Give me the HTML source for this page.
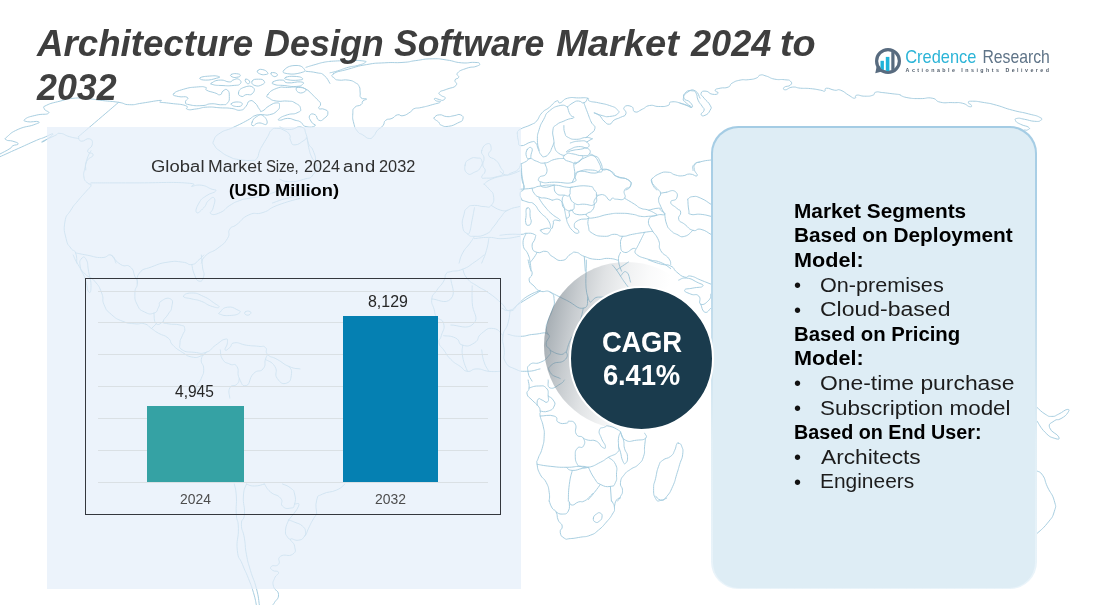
<!DOCTYPE html>
<html lang="en">
<head>
<meta charset="utf-8">
<title>Architecture Design Software Market 2024 to 2032</title>
<style>
html,body{margin:0;padding:0;background:#fff;}
body{width:1096px;height:605px;position:relative;overflow:hidden;font-family:"Liberation Sans",sans-serif;color:#000;}
#map{position:absolute;left:0;top:0;width:1096px;height:605px;}
#map path{fill:none;stroke:#a3cbde;stroke-width:0.95;stroke-linejoin:round;stroke-linecap:round;}
#lpanel{position:absolute;left:46.5px;top:126.5px;width:474.5px;height:462.3px;background:rgba(228,238,249,0.70);}
#chart{position:absolute;left:84.9px;top:277.8px;width:416.6px;height:237.3px;border:1.35px solid #34373d;box-sizing:border-box;}
.grid{position:absolute;left:98px;width:389.8px;height:1px;background:#dae0e4;}
.bar{position:absolute;}
#rpanel{position:absolute;left:711px;top:126px;width:325.7px;height:463px;border-radius:27px;background:linear-gradient(180deg,#a4cce4 0%,#b0d3e8 25%,#cae1ee 48%,#e1eff6 68%,#eaf4fa 100%);}
#rpanel::before{content:"";position:absolute;left:1.7px;top:1.5px;right:1.5px;bottom:1.2px;border-radius:25.6px;background:#deedf5;}
#shadow{position:absolute;left:544.2px;top:261.5px;width:165px;height:167.5px;border-radius:50%;background:linear-gradient(101deg,rgba(100,113,123,0.7) 0%,rgba(100,113,123,0.56) 8%,rgba(100,113,123,0.36) 20%,rgba(100,113,123,0.2) 32%,rgba(100,113,123,0.09) 44%,rgba(100,113,123,0.03) 55%,rgba(100,113,123,0) 66%);}
#cagr{position:absolute;left:569.3px;top:286.3px;width:145px;height:145px;border-radius:50%;background:#1a3b4d;border:2.5px solid #fff;box-sizing:border-box;}
.w{margin:0;padding:0;font:inherit;position:static;}
.t{position:absolute;white-space:nowrap;line-height:1;transform-origin:0 0;}
</style>
</head>
<body>
<svg id="map" viewBox="0 0 1096 605">
<path d="M160.0,101.2C159.7,101.0 164.1,100.0 158.8,100.5C153.4,101.1 151.1,101.8 142.3,103.1C133.6,104.3 136.7,104.9 129.6,104.7C122.4,104.5 126.8,103.6 118.6,102.3C110.4,101.1 111.5,101.6 102.2,100.5C92.9,99.4 96.4,99.3 87.6,98.7C78.8,98.0 81.2,97.6 73.0,98.3C64.8,99.0 68.2,99.0 60.2,101.1C52.3,103.1 51.3,102.9 46.5,105.3C41.8,107.6 43.8,106.5 44.3,108.9C44.9,111.3 50.7,111.4 48.4,113.3C46.0,115.1 43.3,113.5 36.5,115.1C29.7,116.8 28.3,116.8 25.5,118.8C22.8,120.7 23.5,120.8 27.4,121.7C31.2,122.6 36.4,120.7 38.3,121.7C40.2,122.6 39.8,122.5 33.8,124.8C27.7,127.1 26.2,125.8 18.2,129.3C10.3,132.9 10.9,133.5 7.3,136.6C3.7,139.8 4.7,138.6 6.4,139.9C8.0,141.3 9.2,140.0 12.8,141.2C16.3,142.4 18.2,142.6 18.2,143.9C18.2,145.3 15.2,144.4 12.8,145.8C10.3,147.1 13.9,146.0 10.0,148.5C6.2,151.0 3.0,152.3 0.0,154.0 M0.0,156.7C5.5,154.3 7.3,153.4 18.2,148.5C29.2,143.6 28.8,143.6 36.5,140.3C44.2,137.0 38.9,139.5 43.8,137.6C48.7,135.6 52.4,133.1 52.9,133.9C53.5,134.7 48.6,138.1 45.6,140.3C42.6,142.5 40.1,142.6 42.9,141.2C45.6,139.8 49.5,138.1 54.7,135.7C59.9,133.4 55.8,133.1 60.2,133.4C64.6,133.6 63.9,135.1 69.3,136.6C74.8,138.2 75.7,137.9 78.5,138.5 M118.6,102.3C112.6,107.5 110.6,109.2 98.5,119.5C86.5,129.8 84.5,131.5 78.5,136.6 M78.5,136.6C79.3,138.0 77.9,140.5 81.2,141.2C84.5,141.9 86.1,137.7 89.4,138.8C92.7,139.9 92.7,141.1 92.2,144.9C91.6,148.6 87.3,148.2 87.6,151.2C87.9,154.3 93.3,151.9 93.1,154.9C92.8,157.9 88.9,156.7 86.7,161.3C84.5,165.8 86.0,167.4 85.8,170.0 M173.7,93.8C175.3,91.6 176.9,91.2 183.7,89.2C190.6,87.2 189.9,87.6 196.5,87.0C203.1,86.5 202.6,86.4 205.6,87.4C208.6,88.3 203.8,88.5 206.5,90.1C209.3,91.8 210.6,91.5 214.7,92.8C218.9,94.2 217.8,95.2 220.2,94.7C222.7,94.1 220.8,92.4 223.0,91.0C225.1,89.7 225.6,88.5 227.5,90.1C229.4,91.8 229.3,92.7 229.3,96.5C229.3,100.3 229.7,100.4 227.5,102.9C225.3,105.3 227.0,104.4 222.0,104.7C217.1,105.0 217.1,103.5 211.1,103.8C205.1,104.1 208.5,105.3 202.0,105.6C195.4,105.9 194.1,105.8 189.2,104.7C184.3,103.6 186.1,104.2 185.5,102.0C185.0,99.8 189.6,99.1 187.4,97.4C185.2,95.8 182.4,97.6 178.2,96.5C174.1,95.4 172.0,95.9 173.7,93.8Z M200.1,77.9C201.2,76.7 203.8,76.5 209.3,76.1C214.7,75.6 216.2,75.8 218.4,76.4C220.6,77.1 220.4,77.2 216.6,78.2C212.7,79.3 210.5,80.2 205.6,80.1C200.7,80.0 199.1,79.1 200.1,77.9Z M212.0,82.8C214.2,81.4 215.0,80.3 220.2,80.1C225.4,79.8 225.5,81.9 229.3,81.9C233.2,81.9 230.3,80.9 233.0,80.1C235.7,79.3 236.3,78.1 238.5,79.2C240.7,80.3 241.9,81.8 240.3,83.7C238.6,85.6 238.5,85.0 233.0,85.5C227.5,86.1 228.1,85.8 222.0,85.5C216.0,85.3 215.9,85.5 212.9,84.6C209.9,83.8 209.8,84.2 212.0,82.8Z M231.2,74.6C232.5,73.7 233.9,73.4 236.6,73.7C239.4,74.0 240.3,74.4 240.3,75.5C240.3,76.6 239.1,77.0 236.6,77.3C234.2,77.7 233.7,77.6 232.1,76.8C230.4,76.0 229.8,75.5 231.2,74.6Z M257.6,70.9C258.4,69.7 259.2,68.9 262.2,69.5C265.2,70.0 266.8,71.2 267.7,72.8C268.5,74.3 267.4,74.3 264.9,74.6C262.5,74.9 261.6,74.8 259.5,73.7C257.3,72.6 256.8,72.2 257.6,70.9Z M271.3,72.8C272.7,72.2 275.4,72.6 276.8,73.7C278.2,74.8 277.2,75.9 275.9,76.4C274.5,77.0 273.6,76.6 272.2,75.5C270.9,74.4 269.9,73.3 271.3,72.8Z M252.2,81.0C253.2,79.1 255.0,79.2 258.5,79.2C262.1,79.2 262.9,79.3 264.0,81.0C265.1,82.6 264.9,83.3 262.2,84.6C259.5,86.0 257.9,86.6 254.9,85.5C251.9,84.5 251.1,82.9 252.2,81.0Z M245.8,79.2C246.9,78.9 248.6,79.6 249.4,81.0C250.2,82.4 249.6,83.4 248.5,83.7C247.4,84.0 246.6,83.3 245.8,81.9C244.9,80.5 244.7,79.4 245.8,79.2Z M238.5,92.8C239.0,90.1 239.6,89.0 243.9,87.4C248.3,85.7 250.6,85.5 253.1,87.4C255.5,89.3 254.3,91.6 252.2,93.8C250.0,95.9 248.8,93.9 245.8,94.7C242.8,95.5 244.3,97.0 242.1,96.5C239.9,95.9 237.9,95.6 238.5,92.8Z M231.2,103.8C231.7,102.4 235.2,101.7 238.5,102.0C241.8,102.2 242.7,103.3 242.1,104.7C241.6,106.1 239.9,106.8 236.6,106.5C233.4,106.3 230.6,105.2 231.2,103.8Z M284.1,70.0C286.3,67.6 289.0,65.7 295.0,65.5C301.1,65.2 302.5,66.9 304.2,69.1C305.8,71.3 305.4,71.4 300.5,72.8C295.6,74.1 292.7,74.5 287.7,73.7C282.8,72.9 281.9,72.5 284.1,70.0Z M285.9,77.3C288.1,76.4 290.1,76.1 295.0,76.4C300.0,76.7 301.2,77.2 302.3,78.2C303.4,79.3 303.1,79.6 298.7,80.1C294.3,80.5 291.6,80.5 287.7,79.7C283.9,78.9 283.7,78.3 285.9,77.3Z M273.1,81.9C275.3,80.5 277.9,79.8 282.3,80.1C286.6,80.3 282.3,82.3 287.7,82.8C293.2,83.4 296.1,81.4 300.5,81.9C304.9,82.4 304.0,83.3 302.3,84.6C300.7,86.0 300.5,86.2 295.0,86.5C289.6,86.7 290.1,86.1 284.1,85.5C278.1,85.0 278.2,85.7 275.0,84.6C271.7,83.5 270.9,83.3 273.1,81.9Z M267.7,94.7C269.9,91.7 270.8,90.5 276.8,88.3C282.8,86.1 281.2,87.6 287.7,87.4C294.3,87.1 293.2,86.8 298.7,87.4C304.2,87.9 302.2,87.3 306.0,89.2C309.8,91.1 308.2,90.7 311.5,93.8C314.7,96.8 314.2,96.2 316.9,99.2C319.7,102.2 320.0,101.1 320.6,103.8C321.1,106.5 317.7,106.7 318.8,108.4C319.9,110.0 321.5,107.9 324.2,109.3C327.0,110.6 327.9,110.2 327.9,112.9C327.9,115.7 327.0,116.2 324.2,118.4C321.5,120.6 321.5,121.3 318.8,120.2C316.0,119.1 317.8,116.1 315.1,114.7C312.4,113.4 310.7,113.5 309.6,115.7C308.5,117.8 309.8,119.0 311.5,122.0C313.1,125.1 316.8,124.3 315.1,125.7C313.5,127.1 310.4,127.7 306.0,126.6C301.6,125.5 303.8,124.0 300.5,122.0C297.2,120.1 298.9,121.3 295.0,120.2C291.2,119.1 292.1,118.4 287.7,118.4C283.4,118.4 282.9,120.2 280.4,120.2C278.0,120.2 277.3,120.0 279.5,118.4C281.7,116.8 282.5,116.4 287.7,114.7C292.9,113.1 293.0,114.8 296.9,112.9C300.7,111.0 301.1,111.4 300.5,108.4C300.0,105.3 298.9,105.1 295.0,102.9C291.2,100.7 293.2,101.6 287.7,101.1C282.3,100.5 282.3,101.9 276.8,101.1C271.3,100.2 272.2,100.2 269.5,98.3C266.8,96.4 265.5,97.7 267.7,94.7Z M296.9,87.4C298.5,86.1 301.7,87.1 304.2,88.3C306.6,89.5 306.7,90.1 305.1,91.4C303.4,92.6 301.1,93.7 298.7,92.5C296.2,91.3 295.2,88.6 296.9,87.4Z M252.2,122.0C253.2,119.3 253.4,118.5 256.7,116.6C260.0,114.7 260.1,113.5 263.1,115.7C266.1,117.8 268.1,121.7 266.8,123.9C265.4,126.1 262.6,122.4 258.5,123.0C254.4,123.5 255.0,126.0 253.1,125.7C251.1,125.4 251.1,124.8 252.2,122.0Z M160.0,102.3C163.3,102.7 163.3,102.4 170.9,103.4C178.6,104.4 180.6,103.9 185.5,105.6C190.5,107.4 184.1,108.3 187.4,109.3C190.7,110.3 190.5,109.6 196.5,108.9C202.5,108.2 200.3,107.4 207.4,107.1C214.6,106.8 213.1,107.4 220.2,107.8C227.3,108.2 225.1,107.6 231.2,108.4C237.2,109.1 235.9,110.7 240.3,110.2C244.7,109.6 243.0,109.3 245.8,106.5C248.5,103.8 246.7,102.2 249.4,101.1C252.2,100.0 251.9,100.4 254.9,102.9C257.9,105.3 257.3,106.8 259.5,109.3C261.6,111.7 259.2,112.2 262.2,111.1C265.2,110.0 265.1,108.1 269.5,105.6C273.9,103.2 273.8,102.9 276.8,102.9C279.8,102.9 279.5,103.2 279.5,105.6C279.5,108.1 279.8,108.4 276.8,111.1C273.8,113.8 273.9,113.6 269.5,114.7C265.1,115.8 266.6,114.5 262.2,114.7C257.8,115.0 259.3,114.0 254.9,115.7C250.5,117.3 254.2,116.7 247.6,120.2C241.0,123.8 241.2,123.7 233.0,127.5C224.8,131.4 226.0,129.2 220.2,133.0C214.5,136.8 215.5,136.5 213.8,140.3C212.2,144.1 212.8,142.5 214.7,145.8C216.7,149.1 215.8,148.0 220.2,151.2C224.6,154.5 223.9,154.3 229.3,156.7C234.8,159.2 231.9,158.4 238.5,159.5C245.0,160.5 245.8,160.6 251.2,160.4C256.7,160.1 254.3,161.3 256.7,158.5C259.2,155.8 257.8,155.1 259.5,151.2C261.1,147.4 259.7,150.1 262.2,145.8C264.7,141.4 264.9,141.3 267.7,136.6C270.4,132.0 268.6,132.7 271.3,130.3C274.1,127.8 273.0,128.4 276.8,128.4C280.6,128.4 280.3,128.3 284.1,130.3C287.9,132.2 287.6,131.8 289.6,134.8C291.5,137.8 288.8,137.3 290.5,140.3C292.1,143.3 290.9,144.9 295.0,144.9C299.1,144.9 300.6,142.2 304.2,140.3C307.7,138.4 305.5,136.3 306.9,138.5C308.3,140.7 307.4,142.1 308.7,147.6C310.1,153.1 309.5,152.3 311.5,156.7C313.4,161.1 312.9,158.2 315.1,162.2C317.3,166.2 317.7,167.7 318.8,170.0 M306.0,67.3C308.7,66.5 309.6,66.1 315.1,64.6C320.6,63.0 319.7,63.1 324.2,62.2C328.7,61.3 328.3,61.7 330.1,61.5 M306.0,71.3C309.3,71.8 311.5,71.5 316.9,72.8C322.4,74.0 320.3,72.3 324.2,75.5C328.1,78.7 328.2,81.0 329.9,83.4 M333.6,73.7C337.8,71.0 338.4,71.9 348.2,69.2C358.1,66.4 355.5,66.5 366.5,64.6C377.4,62.7 373.8,63.4 384.7,62.8C395.7,62.1 393.7,63.1 403.0,62.4C412.3,61.8 407.0,61.7 415.8,60.6C424.5,59.5 422.9,58.9 432.2,58.8C441.5,58.6 438.0,58.8 446.8,60.0C455.5,61.2 453.2,62.1 461.4,62.8C469.6,63.5 468.7,62.1 474.2,62.4C479.6,62.7 479.1,62.5 479.6,63.7C480.2,64.9 479.8,65.1 476.0,66.4C472.2,67.8 472.3,66.3 466.9,68.2C461.4,70.2 460.2,70.1 457.7,72.8C455.3,75.5 459.5,75.2 458.6,77.4C457.8,79.6 455.8,77.6 455.0,80.1C454.2,82.6 458.4,82.8 455.9,85.6C453.4,88.3 451.7,87.2 446.8,89.2C441.9,91.3 441.1,90.4 439.5,92.3C437.8,94.3 439.7,94.1 441.3,95.6C443.0,97.2 444.4,96.1 445.0,97.4C445.5,98.8 444.8,99.5 443.1,100.2C441.5,100.8 442.0,100.2 439.5,99.6C437.0,99.1 436.0,98.0 434.9,98.4C433.8,98.7 434.2,99.6 435.8,100.7C437.5,101.8 441.5,100.8 440.4,102.0C439.3,103.2 437.9,103.1 432.2,104.7C426.4,106.4 426.7,106.3 421.2,107.5C415.8,108.7 417.2,107.4 413.9,108.8C410.7,110.1 413.6,110.0 410.3,112.0C407.0,114.1 406.8,114.9 403.0,115.7C399.2,116.5 400.8,114.0 397.5,114.8C394.2,115.6 395.6,116.8 392.0,118.4C388.5,120.1 388.4,118.1 385.7,120.3C382.9,122.4 385.4,122.7 382.9,125.7C380.5,128.7 380.2,127.3 377.4,130.3C374.7,133.3 376.3,133.3 373.8,135.8C371.3,138.2 372.5,138.8 369.2,138.5C365.9,138.2 366.4,137.0 362.8,134.9C359.3,132.7 360.1,134.8 357.4,131.2C354.6,127.6 355.1,128.2 353.7,123.0C352.4,117.8 352.5,118.5 352.8,113.9C353.1,109.2 352.2,110.2 354.6,107.5C357.1,104.7 358.6,106.7 361.0,104.7C363.5,102.8 361.2,102.8 362.8,101.1C364.5,99.3 367.0,99.9 366.5,98.9C365.9,97.9 362.9,99.9 361.0,97.8C359.1,95.7 360.7,95.4 360.1,92.0C359.6,88.6 360.6,89.2 359.2,86.5C357.8,83.8 358.8,84.8 355.5,82.8C352.3,80.9 353.2,80.9 348.2,80.1C343.3,79.3 343.2,80.7 339.1,80.1C335.0,79.6 336.2,80.2 334.6,78.3C332.9,76.4 329.5,76.5 333.6,73.7Z M434.4,117.5C435.7,116.1 435.8,115.1 439.5,114.8C443.2,114.5 442.4,116.3 446.8,116.6C451.2,116.9 450.0,116.2 454.1,115.7C458.2,115.1 457.8,113.7 460.5,114.8C463.1,115.9 463.7,116.9 462.8,119.3C462.0,121.8 462.0,120.9 457.7,123.0C453.5,125.1 453.5,125.6 448.6,126.3C443.7,126.9 444.3,126.4 441.3,125.2C438.3,123.9 440.5,123.8 438.6,122.1C436.7,120.3 436.2,120.7 434.9,119.3C433.7,118.0 433.0,118.9 434.4,117.5Z M330.0,61.3C335.5,61.1 338.4,60.7 348.2,60.6C358.1,60.5 357.9,60.3 362.8,60.9C367.8,61.6 366.3,61.4 364.7,62.8C363.0,64.1 362.3,64.1 357.4,65.5C352.4,66.9 354.3,65.7 348.2,67.3C342.2,69.0 342.8,69.3 337.3,71.0C331.8,72.6 332.2,72.3 330.0,72.8 M517.3,132.9C518.2,131.8 516.0,131.7 520.1,129.3C524.2,126.8 526.1,127.2 531.0,124.7C535.9,122.2 533.2,124.6 536.5,121.1C539.8,117.5 538.1,117.0 542.0,112.8C545.8,108.7 544.9,110.9 549.3,107.4C553.6,103.8 553.3,102.4 556.6,101.0C559.9,99.6 556.9,103.6 560.2,102.8C563.5,102.0 562.0,99.7 567.5,98.2C573.0,96.8 572.4,97.9 578.5,97.9C584.5,97.9 584.3,97.3 587.6,98.2C590.9,99.2 586.1,99.6 589.4,101.0C592.7,102.4 592.5,101.4 598.5,102.8C604.6,104.2 604.0,103.6 609.5,105.5C615.0,107.5 614.3,106.7 616.8,109.2C619.3,111.7 619.9,111.6 617.7,113.8C615.5,115.9 614.1,115.9 609.5,116.5C604.8,117.0 606.8,116.7 602.2,115.6C597.5,114.5 594.8,112.8 594.0,112.8C593.2,112.8 596.4,113.1 599.5,115.6C602.5,118.0 601.0,118.5 604.0,121.1C607.0,123.6 606.5,124.4 609.5,124.2C612.5,123.9 610.8,122.2 614.1,120.1C617.3,118.1 616.9,119.3 620.4,117.4C624.0,115.5 624.8,116.8 625.9,113.8C627.0,110.7 622.4,109.6 624.1,107.4C625.7,105.2 628.1,105.1 631.4,106.5C634.7,107.8 631.8,111.1 635.0,111.9C638.3,112.8 638.0,111.1 642.3,109.2C646.7,107.3 644.7,106.4 649.6,105.5C654.6,104.7 653.3,106.5 658.8,106.5C664.2,106.5 664.1,106.9 667.9,105.5C671.7,104.2 667.2,102.4 671.5,101.9C675.9,101.4 676.5,102.1 682.5,103.7C688.5,105.4 690.5,107.6 691.6,107.4C692.7,107.1 688.6,105.5 686.1,102.8C683.7,100.1 682.8,101.5 683.4,98.2C683.9,95.0 684.4,94.1 688.0,91.9C691.5,89.7 691.6,89.0 695.3,90.9C698.9,92.9 698.6,96.1 700.0,98.2 M517.3,132.9C517.6,135.1 517.2,136.4 518.2,140.2C519.3,144.1 517.2,145.1 521.0,145.7C524.8,146.2 526.6,142.9 531.0,142.0C535.4,141.2 533.4,140.8 535.6,143.0C537.8,145.1 536.7,145.8 538.3,149.3C540.0,152.9 539.1,152.6 541.1,154.8C543.0,157.0 542.2,157.2 544.7,156.6C547.2,156.1 547.1,155.7 549.3,153.0C551.5,150.3 550.6,150.5 552.0,147.5C553.4,144.5 553.3,144.3 553.8,143.0 M539.2,150.3C538.7,147.2 537.4,146.5 537.4,140.2C537.4,133.9 537.3,135.6 539.2,129.3C541.1,123.0 540.8,124.7 543.8,119.2C546.8,113.8 544.3,115.1 549.3,111.0C554.2,106.9 554.7,106.8 560.2,105.5C565.7,104.3 565.3,106.6 567.5,107.0 M567.5,107.0C568.3,109.3 568.3,111.6 570.3,114.7C572.2,117.8 574.5,116.0 573.9,117.4C573.4,118.8 571.4,118.1 568.4,119.2C565.4,120.3 567.4,119.4 563.9,121.1C560.3,122.7 559.9,122.0 556.6,124.7C553.3,127.4 553.7,125.5 552.9,130.2C552.1,134.8 553.3,135.0 553.8,140.2C554.4,145.4 553.4,143.7 554.7,147.5C556.1,151.4 555.4,150.5 558.4,153.0C561.4,155.5 562.9,154.9 564.8,155.7 M563.9,125.6C564.1,127.8 563.4,129.4 564.8,132.9C566.1,136.5 564.9,135.6 568.4,137.5C572.0,139.4 571.4,139.3 576.6,139.3C581.8,139.3 581.1,137.6 585.8,137.5C590.4,137.3 590.2,138.4 592.2,138.8 M583.9,102.8C585.0,105.8 585.4,107.1 587.6,112.8C589.8,118.6 589.1,117.3 591.2,122.0C593.4,126.6 595.4,124.5 594.9,128.4C594.3,132.2 592.2,132.0 589.4,134.7C586.7,137.5 586.9,136.7 585.8,137.5 M567.5,107.0C569.2,105.7 569.7,104.6 573.0,102.8C576.3,101.0 575.2,101.0 578.5,101.0C581.8,101.0 581.2,103.6 583.9,102.8C586.7,102.0 586.5,99.6 587.6,98.2 M570.3,143.0C572.7,142.4 573.5,141.4 578.5,141.1C583.4,140.9 583.9,140.1 586.7,142.0C589.4,144.0 590.1,146.1 587.6,147.5C585.1,148.9 583.7,146.1 578.5,146.6C573.3,147.2 573.8,147.7 570.3,149.3C566.7,151.0 565.8,151.8 566.6,152.1C567.4,152.4 568.9,151.1 573.0,150.3C577.1,149.4 575.9,149.9 580.3,149.3C584.7,148.8 584.9,147.1 587.6,148.4C590.3,149.8 591.1,151.7 589.4,153.9C587.8,156.1 587.0,155.7 582.1,155.7C577.2,155.7 577.6,154.5 573.0,153.9C568.3,153.4 569.3,152.5 566.6,153.9C563.9,155.3 562.5,156.0 563.9,158.5C565.2,160.9 567.3,160.7 571.2,162.1C575.0,163.5 573.4,164.1 576.6,163.0C579.9,161.9 580.5,160.7 582.1,158.5C583.8,156.3 582.1,156.6 582.1,155.7 M592.2,138.8 L586.7,142.0 M589.4,153.9C591.1,154.7 591.9,153.6 594.9,156.6C597.9,159.7 597.3,160.1 599.5,163.9C601.6,167.8 599.2,167.5 602.2,169.4C605.2,171.3 605.1,168.1 609.5,170.3C613.9,172.5 611.3,174.0 616.8,176.7C622.3,179.5 623.6,176.7 627.7,179.5C631.8,182.2 631.0,182.7 630.5,185.8C629.9,189.0 627.3,188.8 625.9,190.0 M527.4,149.3C529.0,146.9 530.8,146.8 531.9,148.4C533.0,150.1 531.6,151.8 531.0,154.8C530.5,157.8 531.5,157.9 530.1,158.5C528.7,159.0 527.3,159.4 526.5,156.6C525.6,153.9 525.7,151.8 527.4,149.3Z M521.0,163.9C522.6,163.1 523.7,162.8 526.5,161.2C529.2,159.6 527.1,158.5 530.1,158.5C533.1,158.5 532.1,159.8 536.5,161.2C540.9,162.6 539.2,163.6 544.7,163.0C550.2,162.5 549.0,160.7 554.7,159.4C560.5,158.0 561.1,158.7 563.9,158.5 M544.7,163.0C545.3,166.0 548.2,168.7 546.5,173.1C544.9,177.4 540.6,174.9 539.2,177.6C537.9,180.4 537.3,180.8 542.0,182.2C546.6,183.6 545.4,182.2 554.7,182.2C564.1,182.2 567.0,184.4 573.0,182.2C579.0,180.0 574.5,180.4 574.8,174.9C575.1,169.4 573.4,167.5 573.9,163.9C574.5,160.4 575.8,163.3 576.6,163.0 M574.8,174.9C576.5,173.8 574.3,171.8 580.3,171.2C586.3,170.7 588.9,173.6 594.9,173.1C600.9,172.5 598.2,170.5 600.4,169.4C602.6,168.3 601.6,169.4 602.2,169.4 M651.5,179.5C653.6,177.8 653.8,176.2 658.8,174.0C663.7,171.8 663.0,171.9 667.9,172.2C672.8,172.4 670.8,173.8 675.2,174.9C679.6,176.0 678.1,176.1 682.5,175.8C686.9,175.5 685.4,174.0 689.8,174.0C694.2,174.0 695.7,177.2 697.1,175.8C698.4,174.4 694.9,173.0 694.3,169.4C693.8,165.9 693.6,166.1 695.3,163.9C697.0,161.8 698.6,162.7 700.0,162.1 M651.5,179.5C652.0,181.4 651.6,182.7 653.3,185.8C654.9,189.0 655.8,188.8 656.9,190.0 M500.0,171.2C501.6,172.3 502.2,174.3 505.5,174.9C508.8,175.4 507.1,174.7 510.9,173.1C514.8,171.4 515.2,172.2 518.2,169.4C521.3,166.7 519.9,162.3 521.0,163.9C522.1,165.6 521.1,168.3 521.9,174.9C522.7,181.5 523.4,181.3 523.7,185.8C524.0,190.4 523.1,188.8 522.8,190.0 M522.1,200.2C523.9,200.8 524.5,201.0 528.1,202.2C531.7,203.4 530.5,201.2 534.1,204.2C537.8,207.2 535.9,207.4 540.2,212.2C544.4,217.1 544.9,215.5 548.2,220.3C551.5,225.1 549.7,227.1 551.2,228.3C552.7,229.5 552.3,226.7 553.2,224.3C554.1,221.9 552.1,221.5 554.2,220.3C556.3,219.1 560.8,222.1 560.2,220.3C559.6,218.5 556.4,217.9 552.2,214.3C548.0,210.6 549.8,212.4 546.2,208.2C542.6,204.0 542.3,203.5 540.2,200.2C538.1,196.9 539.5,198.1 539.2,197.2 M527.1,208.2C528.2,207.9 528.8,206.8 529.7,209.2C530.6,211.6 529.7,212.3 530.1,216.3C530.5,220.2 531.7,219.6 531.1,222.3C530.5,225.0 529.7,225.3 528.1,225.3C526.5,225.3 526.3,225.3 525.7,222.3C525.1,219.3 526.0,218.9 526.1,215.3C526.2,211.6 525.8,212.3 526.1,210.2C526.4,208.1 526.0,208.5 527.1,208.2Z M541.2,229.9C543.6,229.0 546.8,227.6 549.2,228.3C551.6,229.0 550.4,230.6 549.2,232.3C548.0,234.0 547.6,234.2 545.2,233.9C542.8,233.6 542.4,232.5 541.2,231.3C540.0,230.1 538.8,230.8 541.2,229.9Z M520.1,189.2C523.7,188.9 526.1,189.1 532.1,188.2C538.2,187.2 533.5,187.0 540.2,186.1C546.8,185.2 546.4,184.8 554.2,185.1C562.0,185.4 560.8,186.5 566.3,187.1C571.7,187.8 570.5,187.1 572.3,187.1 M521.1,170.1C521.4,173.1 521.2,174.7 522.1,180.1C523.0,185.5 524.7,184.2 524.1,188.2C523.5,192.1 520.7,189.6 520.1,193.2C519.5,196.8 521.5,198.1 522.1,200.2 M532.1,188.2C532.7,189.7 532.0,190.5 534.1,193.2C536.2,195.9 535.5,195.7 539.2,197.2C542.8,198.7 542.3,197.3 546.2,198.2C550.1,199.1 550.4,199.6 552.2,200.2 M540.2,182.1C541.1,183.6 539.0,186.2 543.2,187.1C547.4,188.1 550.9,185.7 554.2,185.1 M554.2,185.1C554.8,187.6 553.2,190.2 556.2,193.2C559.2,196.2 560.3,194.6 564.3,195.2C568.2,195.8 567.5,197.0 569.3,195.2C571.1,193.4 569.4,191.6 570.3,189.2C571.2,186.7 566.9,188.1 572.3,187.1C577.7,186.2 581.7,185.2 588.4,186.1C595.0,187.0 592.0,187.4 594.4,190.2C596.8,192.9 596.4,191.0 596.4,195.2C596.4,199.4 598.0,201.5 594.4,204.2C590.8,206.9 590.4,204.5 584.3,204.2C578.3,203.9 578.8,205.9 574.3,203.2C569.8,200.5 570.8,197.6 569.3,195.2 M552.2,200.2C554.6,200.2 556.6,197.8 560.2,200.2C563.9,202.6 560.6,205.2 564.3,208.2C567.9,211.2 569.3,211.4 572.3,210.2C575.3,209.0 573.7,206.0 574.3,204.2 M564.3,195.2C563.7,196.7 562.2,196.3 562.2,200.2C562.2,204.1 563.1,202.8 564.3,208.2C565.5,213.7 565.1,213.5 566.3,218.3C567.5,223.1 566.5,220.7 568.3,224.3C570.1,227.9 569.6,227.6 572.3,230.3C575.0,233.0 575.5,233.3 577.3,233.3C579.1,233.3 579.2,232.4 578.3,230.3C577.4,228.2 574.3,229.3 574.3,226.3C574.3,223.3 574.1,222.7 578.3,220.3C582.5,217.9 585.9,220.1 588.4,218.3C590.8,216.5 585.1,216.7 586.3,214.3C587.6,211.8 590.0,213.3 592.4,210.2C594.8,207.2 593.8,206.0 594.4,204.2 M572.3,210.2C573.5,211.4 572.1,213.1 576.3,214.3C580.5,215.5 583.3,214.3 586.3,214.3 M566.3,218.3C567.2,217.7 568.4,218.4 569.3,216.3C570.2,214.2 568.4,213.1 569.3,211.2C570.2,209.4 571.4,210.5 572.3,210.2 M575.3,176.1C576.8,174.6 575.2,172.9 580.3,171.1C585.4,169.3 586.3,169.8 592.4,170.1C598.4,170.4 596.8,172.4 600.4,172.1C604.0,171.8 600.8,169.1 604.4,169.1C608.0,169.1 608.8,170.0 612.4,172.1C616.1,174.2 611.6,173.7 616.5,176.1C621.3,178.5 624.3,177.1 628.5,180.1C632.7,183.1 631.7,183.1 630.5,186.1C629.3,189.2 626.3,186.5 624.5,190.2C622.7,193.8 626.9,195.5 624.5,198.2C622.1,200.9 620.1,199.2 616.5,199.2C612.9,199.2 614.6,197.9 612.4,198.2C610.3,198.5 611.8,201.1 609.4,200.2C607.0,199.3 607.7,196.7 604.4,195.2C601.1,193.7 600.8,195.2 598.4,195.2C596.0,195.2 597.0,195.2 596.4,195.2 M575.3,164.1C578.0,162.2 578.6,160.4 584.3,158.0C590.1,155.6 589.6,154.8 594.4,156.0C599.2,157.2 598.0,157.8 600.4,162.0C602.8,166.3 601.8,167.7 602.4,170.1 M572.3,182.1 L575.3,176.1 M624.5,198.2C627.5,200.0 629.7,201.2 634.5,204.2C639.4,207.2 636.3,206.4 640.6,208.2C644.8,210.0 643.8,208.4 648.6,210.2C653.4,212.0 654.2,213.1 656.6,214.3 M588.4,218.3C590.8,218.0 590.4,218.5 596.4,217.3C602.4,216.1 601.2,215.5 608.4,214.3C615.7,213.1 613.3,213.3 620.5,213.3C627.7,213.3 626.5,213.4 632.5,214.3C638.6,215.2 635.7,215.7 640.6,216.3C645.4,216.9 643.8,216.6 648.6,216.3C653.4,216.0 654.2,215.6 656.6,215.3 M598.4,195.2C597.2,196.7 595.6,197.5 594.4,200.2C593.2,202.9 594.4,203.0 594.4,204.2 M588.4,218.3C588.4,220.7 587.1,221.8 588.4,226.3C589.6,230.8 587.6,230.3 592.4,233.3C597.2,236.3 597.8,236.0 604.4,236.3C611.0,236.6 609.0,234.3 614.5,234.3C619.9,234.3 617.1,236.3 622.5,236.3C627.9,236.3 625.9,235.5 632.5,234.3C639.2,233.1 638.6,233.2 644.6,232.3C650.6,231.4 650.2,231.6 652.6,231.3 M652.6,231.3C651.4,228.0 647.4,225.1 648.6,220.3C649.8,215.5 651.8,217.1 656.6,215.3C661.4,213.5 663.5,215.8 664.7,214.3C665.9,212.8 662.4,212.0 660.6,210.2C658.8,208.4 662.2,208.2 658.6,208.2C655.0,208.2 651.6,209.6 648.6,210.2 M652.6,178.1C652.3,179.3 650.4,179.1 651.6,182.1C652.8,185.1 653.9,184.8 656.6,188.2C659.3,191.5 660.0,189.9 660.6,193.2C661.2,196.5 658.6,195.3 658.6,199.2C658.6,203.1 658.8,201.7 660.6,206.2C662.4,210.7 663.5,211.8 664.7,214.3 M666.7,192.2C669.1,191.9 671.7,189.4 674.7,191.2C677.7,193.0 677.9,194.9 676.7,198.2C675.5,201.5 670.7,199.2 670.7,202.2C670.7,205.2 673.7,205.2 676.7,208.2C679.7,211.2 680.1,208.9 680.7,212.2C681.3,215.6 677.5,215.7 678.7,219.3C679.9,222.9 680.5,221.0 684.7,224.3C689.0,227.6 688.0,228.8 692.8,230.3C697.6,231.8 695.4,228.1 700.8,229.3C706.2,230.5 707.8,232.8 710.8,234.3 M666.7,192.2 L660.6,193.2 M687.8,199.2C689.3,198.4 688.9,196.9 692.8,196.6C696.7,196.3 695.4,195.9 700.8,198.2C706.2,200.5 707.8,202.4 710.8,204.2 M687.8,199.2C688.1,202.5 687.9,205.7 688.8,210.2C689.7,214.8 687.1,213.1 690.8,214.3C694.4,215.5 694.8,213.7 700.8,214.3C706.8,214.9 707.8,215.7 710.8,216.3 M622.5,236.3C621.9,238.8 619.9,239.6 620.5,244.4C621.1,249.2 620.3,251.2 624.5,252.4C628.7,253.6 630.9,247.8 634.5,248.4C638.2,249.0 632.3,251.1 636.5,254.4C640.8,257.7 641.4,257.0 648.6,259.4C655.8,261.8 654.0,259.7 660.6,262.4C667.3,265.2 667.7,266.7 670.7,268.5 M644.6,232.3C643.4,234.7 643.0,235.5 640.6,240.4C638.2,245.2 637.8,246.0 636.5,248.4 M652.6,231.3C654.4,234.0 656.2,234.6 658.6,240.4C661.0,246.1 657.6,245.0 660.6,250.4C663.7,255.8 665.7,254.2 668.7,258.4C671.7,262.7 670.1,262.7 670.7,264.5 M664.7,214.3C665.3,217.3 664.9,219.5 666.7,224.3C668.5,229.1 667.7,227.3 670.7,230.3C673.7,233.3 672.5,232.5 676.7,234.3C680.9,236.1 679.9,237.6 684.7,236.3C689.6,235.1 690.4,232.1 692.8,230.3 M620.5,252.4C619.9,254.8 618.2,254.8 618.5,260.4C618.8,266.0 620.6,267.9 621.5,271.1 M500.0,235.3C503.0,235.0 503.4,234.6 510.0,234.3C516.7,234.0 517.3,234.6 522.1,234.3C526.9,234.0 522.5,233.3 526.1,233.3C529.7,233.3 531.4,232.8 534.1,234.3C536.8,235.8 535.7,234.7 535.1,238.4C534.5,242.0 531.5,242.2 532.1,246.4C532.7,250.6 532.9,250.9 537.1,252.4C541.4,253.9 541.7,250.2 546.2,251.4C550.7,252.6 547.4,253.7 552.2,256.4C557.0,259.1 556.8,261.0 562.2,260.4C567.7,259.8 566.1,256.8 570.3,254.4C574.5,252.0 572.1,251.8 576.3,252.4C580.5,253.0 578.3,254.3 584.3,256.4C590.4,258.5 589.2,258.8 596.4,259.4C603.6,260.0 601.8,258.1 608.4,258.4C615.1,258.7 615.5,259.8 618.5,260.4 M526.1,233.3C525.2,236.6 522.5,238.1 523.1,244.4C523.7,250.7 526.0,249.0 528.1,254.4C530.2,259.8 529.2,257.4 530.1,262.4C531.0,267.4 530.8,268.5 531.1,271.1 M537.1,252.4C536.2,253.9 536.2,254.4 534.1,257.4C532.0,260.4 531.3,260.9 530.1,262.4 M584.3,256.4 L585.3,271.1 M528.1,260.0C528.7,262.4 528.9,263.8 530.1,268.0C531.3,272.2 532.4,270.4 532.1,274.1C531.8,277.7 528.5,276.5 529.1,280.1C529.7,283.7 530.8,282.8 534.1,286.1C537.4,289.4 535.3,289.3 540.2,291.1C545.0,292.9 546.0,289.4 550.2,292.1C554.4,294.8 553.6,294.7 554.2,300.2C554.8,305.6 554.0,304.2 552.2,310.2C550.4,316.2 550.0,314.8 548.2,320.2C546.4,325.7 546.2,324.1 546.2,328.3C546.2,332.5 547.6,332.5 548.2,334.3 M586.3,260.0C586.8,271.1 584.1,286.0 587.8,297.1C591.4,308.3 591.0,297.1 598.4,297.1C605.8,297.1 608.2,297.1 612.4,297.1 M550.2,292.1C555.0,294.5 556.3,295.3 566.3,300.2C576.2,305.0 576.9,309.1 583.3,308.2C589.8,307.3 586.4,300.5 587.8,297.1 M540.2,291.1C534.1,294.7 529.1,297.4 520.1,303.2C511.0,308.9 515.5,308.7 510.0,310.2C504.6,311.7 504.4,308.8 502.0,308.2 M508.0,334.3C511.6,334.9 512.2,336.3 520.1,336.3C527.9,336.3 525.7,334.9 534.1,334.3C542.6,333.7 544.6,331.3 548.2,334.3C551.8,337.3 545.6,339.5 546.2,344.3C546.8,349.2 549.6,346.7 550.2,350.4C550.8,354.0 551.2,352.8 548.2,356.4C545.2,360.0 545.6,360.0 540.2,362.4C534.7,364.8 533.7,361.4 530.1,364.4C526.5,367.4 527.5,367.4 528.1,372.4C528.7,377.4 530.9,378.5 532.1,381.1 M550.2,350.4C553.2,351.6 555.4,353.8 560.2,354.4C565.1,355.0 565.1,350.6 566.3,352.4C567.5,354.2 568.5,356.8 564.3,360.4C560.0,364.0 556.4,360.8 552.2,364.4C548.0,368.0 547.8,368.2 550.2,372.4C552.6,376.7 557.2,376.7 560.2,378.5 M583.3,308.2C582.4,311.8 582.4,313.6 580.3,320.2C578.2,326.9 579.3,324.3 576.3,330.3C573.3,336.3 573.3,333.7 570.3,340.3C567.3,346.9 567.5,348.8 566.3,352.4 M612.4,265.0C613.7,266.5 614.1,266.7 616.5,270.0C618.9,273.4 618.1,272.4 620.5,276.1C622.9,279.7 621.5,277.9 624.5,282.1C627.5,286.3 628.7,287.7 630.5,290.1 M616.5,270.0C618.3,268.8 618.9,268.4 622.5,266.0C626.1,263.6 626.7,263.2 628.5,262.0 M620.5,276.1C622.3,274.9 623.5,270.2 626.5,272.0C629.5,273.9 629.3,279.1 630.5,282.1 M648.6,260.0C652.2,261.2 654.0,262.2 660.6,264.0C667.3,265.8 665.9,263.6 670.7,266.0C675.5,268.4 672.5,268.7 676.7,272.0C680.9,275.4 680.5,275.9 684.7,277.1C689.0,278.3 685.9,275.2 690.8,276.1C695.6,277.0 694.8,277.7 700.8,280.1C706.8,282.5 707.8,282.9 710.8,284.1 M678.7,280.1C681.1,279.5 681.3,277.5 686.7,278.1C692.2,278.7 692.0,279.7 696.8,282.1C701.6,284.5 704.0,284.3 702.8,286.1C701.6,287.9 698.2,286.9 692.8,288.1C687.3,289.3 685.3,288.3 684.7,290.1C684.1,291.9 686.5,292.3 690.8,294.1C695.0,295.9 695.8,293.1 698.8,296.1C701.8,299.2 697.8,303.0 700.8,304.2C703.8,305.4 705.8,303.2 708.8,300.2C711.8,297.1 710.2,295.9 710.8,294.1 M700.8,304.2C702.0,306.6 701.8,311.0 704.8,312.2C707.8,313.4 709.0,309.4 710.8,308.2 M528.1,380.0C528.4,382.4 529.4,383.8 529.1,388.0C528.8,392.2 526.2,390.4 527.1,394.1C528.0,397.7 528.8,396.5 532.1,400.1C535.4,403.7 535.7,402.8 538.2,406.1C540.6,409.4 539.6,408.1 540.2,411.1C540.8,414.1 539.3,411.6 540.2,416.1C541.1,420.7 542.0,420.2 543.2,426.2C544.4,432.2 544.5,429.6 544.2,436.2C543.9,442.9 544.0,441.6 542.2,448.3C540.4,454.9 539.7,453.5 538.2,458.3C536.6,463.1 536.5,459.5 537.1,464.3C537.8,469.2 537.4,469.0 540.2,474.4C542.9,479.8 543.5,477.0 546.2,482.4C548.9,487.8 548.3,486.8 549.2,492.4C550.1,498.1 549.2,498.5 549.2,501.1 M529.1,388.0C531.8,387.4 533.0,386.0 538.2,386.0C543.3,386.0 543.2,385.0 546.2,388.0C549.2,391.0 547.9,391.8 548.2,396.1C548.5,400.3 549.0,400.9 547.2,402.1C545.4,403.3 544.9,401.0 542.2,400.1C539.5,399.2 539.7,397.6 538.2,399.1C536.6,400.6 537.4,403.3 537.1,405.1 M540.2,411.1C542.6,411.1 544.0,412.6 548.2,411.1C552.4,409.6 552.7,409.4 554.2,406.1C555.7,402.8 555.0,403.1 553.2,400.1C551.4,397.1 549.7,397.3 548.2,396.1 M548.2,380.0C548.8,382.4 546.6,386.8 550.2,388.0C553.8,389.2 556.0,386.4 560.2,384.0C564.5,381.6 563.1,381.2 564.3,380.0 M540.2,416.1C544.4,416.1 548.8,414.3 554.2,416.1C559.6,418.0 554.6,420.1 558.2,422.2C561.8,424.3 563.0,423.5 566.3,423.2C569.6,422.9 566.6,420.9 569.3,421.2C572.0,421.5 573.2,420.3 575.3,424.2C577.4,428.1 573.9,430.0 576.3,434.2C578.7,438.4 581.2,434.6 583.3,438.2C585.4,441.8 585.1,443.3 583.3,446.3C581.5,449.3 579.7,445.3 577.3,448.3C574.9,451.3 575.3,451.5 575.3,456.3C575.3,461.1 575.8,461.3 577.3,464.3C578.8,467.3 579.4,465.7 580.3,466.3 M537.1,464.3C541.1,464.9 541.5,465.4 550.2,466.3C558.9,467.2 557.2,467.3 566.3,467.3C575.3,467.3 573.7,466.3 580.3,466.3C586.9,466.3 585.9,467.0 588.4,467.3 M583.3,438.2C584.8,438.8 584.4,439.3 588.4,440.2C592.3,441.1 592.2,439.1 596.4,441.2C600.6,443.4 599.7,445.8 602.4,447.3C605.1,448.8 605.7,449.0 605.4,446.3C605.1,443.6 603.2,443.1 601.4,438.2C599.6,433.4 598.5,433.5 599.4,430.2C600.3,426.9 601.4,428.4 604.4,427.2C607.4,426.0 605.2,425.3 609.4,426.2C613.7,427.1 615.2,428.4 618.5,430.2C621.8,432.0 619.9,431.6 620.5,432.2 M580.3,466.3C582.7,466.6 582.3,468.6 588.4,467.3C594.4,466.1 594.4,465.3 600.4,462.3C606.4,459.3 603.3,460.3 608.4,457.3C613.6,454.3 614.5,455.6 617.5,452.3C620.5,449.0 618.2,450.5 618.5,446.3C618.8,442.0 617.9,442.4 618.5,438.2C619.1,434.0 619.9,434.0 620.5,432.2 M620.5,432.2C621.4,434.6 622.3,435.4 623.5,440.2C624.7,445.1 623.3,443.5 624.5,448.3C625.7,453.1 627.2,451.8 627.5,456.3C627.8,460.8 627.0,462.1 625.5,463.3C624.0,464.5 624.0,463.6 622.5,460.3C621.0,457.0 621.7,456.5 620.5,452.3C619.3,448.1 619.1,448.1 618.5,446.3 M620.5,432.2C622.0,434.6 620.7,437.8 625.5,440.2C630.3,442.7 630.5,440.8 636.5,440.2C642.6,439.6 643.2,440.3 645.6,438.2C648.0,436.1 644.9,434.7 644.6,433.2 M645.6,438.2C645.3,440.6 645.2,440.8 644.6,446.3C644.0,451.7 645.4,450.9 643.6,456.3C641.8,461.7 642.5,460.4 638.6,464.3C634.6,468.3 634.7,466.3 630.5,469.4C626.3,472.4 627.5,470.5 624.5,474.4C621.5,478.3 621.1,477.6 620.5,482.4C619.9,487.2 622.5,486.2 622.5,490.4C622.5,494.7 622.0,493.3 620.5,496.5C619.0,499.7 618.4,499.7 617.5,501.1 M588.4,467.3C590.2,470.7 590.8,473.3 594.4,478.4C598.0,483.5 595.6,482.0 600.4,484.4C605.2,486.8 605.9,487.0 610.4,486.4C615.0,485.8 613.7,486.0 615.5,482.4C617.3,478.8 616.5,479.8 616.5,474.4C616.5,469.0 617.9,469.5 615.5,464.3C613.1,459.2 610.5,459.4 608.4,457.3 M566.3,467.3C568.1,468.3 567.5,470.1 572.3,470.4C577.1,470.7 577.5,469.3 582.3,468.4C587.1,467.4 586.5,467.7 588.4,467.3 M572.3,470.4C571.4,474.6 570.5,475.2 569.3,484.4C568.1,493.6 568.6,496.1 568.3,501.1 M600.4,484.4C598.6,486.8 598.0,487.9 594.4,492.4C590.8,497.0 590.2,497.4 588.4,499.5 M610.4,486.4 L611.4,501.1 M678.7,443.3C680.2,443.9 680.5,443.0 681.7,446.3C682.9,449.6 683.3,448.9 682.7,454.3C682.1,459.7 681.5,458.3 679.7,464.3C677.9,470.4 678.8,467.8 676.7,474.4C674.6,481.0 675.7,479.8 672.7,486.4C669.7,493.1 670.3,492.2 666.7,496.5C663.1,500.7 664.0,499.9 660.6,500.5C657.3,501.1 657.7,502.1 655.6,498.5C653.5,494.9 653.6,494.5 653.6,488.4C653.6,482.4 654.1,485.0 655.6,478.4C657.1,471.8 656.5,471.8 658.6,466.3C660.7,460.9 659.0,463.3 662.7,460.3C666.3,457.3 667.1,459.3 670.7,456.3C674.3,453.3 672.9,453.9 674.7,450.3C676.5,446.7 675.5,446.4 676.7,444.3C677.9,442.1 677.2,442.7 678.7,443.3Z M549.2,501.0C550.1,503.2 550.1,504.8 552.2,508.1C554.3,511.4 554.4,508.5 556.2,512.1C558.0,515.7 556.4,515.9 558.2,520.1C560.0,524.3 561.6,522.5 562.2,526.1C562.9,529.8 559.6,528.6 560.2,532.2C560.8,535.8 561.2,536.3 564.3,538.2C567.3,540.1 565.5,538.9 570.3,538.6C575.1,538.3 574.3,538.2 580.3,537.2C586.3,536.2 584.9,537.3 590.4,535.2C595.8,533.1 593.6,534.1 598.4,530.2C603.2,526.2 602.2,526.9 606.4,522.1C610.6,517.3 610.0,518.3 612.4,514.1C614.9,509.9 614.5,511.7 614.5,508.1C614.5,504.5 613.4,504.2 612.4,502.0C611.5,499.9 611.7,501.3 611.4,501.0 M556.2,512.1C558.0,512.7 558.6,514.4 562.2,514.1C565.9,513.8 566.2,514.7 568.3,511.1C570.4,507.5 569.0,504.8 569.3,502.0 M569.3,502.0C570.2,503.0 569.6,505.1 572.3,505.1C575.0,505.1 574.7,503.3 578.3,502.0C581.9,500.8 580.7,502.9 584.3,501.0C588.0,499.2 588.0,498.3 590.4,496.0C592.8,493.8 591.8,494.3 592.4,493.6 M593.4,518.1C593.7,515.7 594.3,515.6 596.4,514.1C598.5,512.6 598.7,512.2 600.4,513.1C602.1,514.0 602.3,514.7 602.0,517.1C601.7,519.5 601.4,519.6 599.4,521.1C597.4,522.6 597.2,523.0 595.4,522.1C593.6,521.2 593.1,520.5 593.4,518.1Z M614.5,506.1C615.1,504.3 614.7,502.4 616.5,500.0C618.3,497.6 619.3,498.6 620.5,498.0 M655.6,496.0C657.1,497.2 657.3,499.4 660.6,500.0C664.0,500.6 664.9,498.6 666.7,498.0 M680.0,103.2C681.8,103.8 682.4,104.0 686.0,105.2C689.6,106.4 690.8,108.1 692.0,107.2C693.3,106.3 692.4,104.9 690.0,102.2C687.6,99.5 685.2,101.2 684.0,98.2C682.8,95.2 683.6,94.4 686.0,92.2C688.4,89.9 689.0,90.5 692.0,90.8C695.1,91.1 694.3,90.3 696.1,93.2C697.9,96.0 696.3,96.3 698.1,100.2C699.9,104.1 700.3,103.2 702.1,106.2C703.9,109.2 704.4,107.8 704.1,110.2C703.8,112.7 700.8,112.8 701.1,114.3C701.4,115.8 702.4,116.5 705.1,115.3C707.8,114.1 708.6,113.3 710.1,110.2C711.6,107.2 711.9,108.8 710.1,105.2C708.3,101.6 706.8,101.8 704.1,98.2C701.4,94.6 700.5,95.3 701.1,93.2C701.7,91.1 702.8,90.9 706.1,91.2C709.4,91.5 708.5,93.6 712.1,94.2C715.7,94.8 717.2,94.4 718.2,93.2C719.1,92.0 714.5,91.7 715.1,90.2C715.7,88.7 716.2,89.1 720.2,88.2C724.1,87.2 724.6,88.7 728.2,87.1C731.8,85.6 728.6,85.2 732.2,83.1C735.8,81.0 735.4,81.1 740.2,80.1C745.1,79.1 743.5,80.3 748.3,79.7C753.1,79.1 752.7,79.5 756.3,78.1C759.9,76.7 757.3,75.7 760.3,75.1C763.3,74.5 762.1,74.9 766.3,76.1C770.6,77.3 769.0,78.0 774.4,79.1C779.8,80.2 779.6,79.1 784.4,79.7C789.2,80.3 788.6,79.5 790.4,81.1C792.2,82.8 792.2,83.3 790.4,85.1C788.6,86.9 785.9,85.8 784.4,87.1C782.9,88.5 783.0,89.8 785.4,89.8C787.8,89.8 787.9,87.6 792.4,87.1C797.0,86.7 795.1,87.7 800.5,88.2C805.9,88.6 804.5,88.0 810.5,88.6C816.5,89.2 816.3,89.4 820.6,90.2C824.8,90.9 822.8,91.8 824.6,91.2C826.4,90.6 823.6,88.5 826.6,88.2C829.6,87.9 830.4,89.6 834.6,90.2C838.8,90.8 836.4,88.7 840.6,90.2C844.9,91.7 844.5,92.8 848.7,95.2C852.9,97.6 852.3,98.2 854.7,98.2C857.1,98.2 853.7,95.8 856.7,95.2C859.7,94.6 859.9,96.2 864.7,96.2C869.6,96.2 869.5,96.4 872.8,95.2C876.1,94.0 872.8,93.0 875.8,92.2C878.8,91.4 877.7,92.1 882.8,92.6C887.9,93.1 887.7,93.2 892.9,93.8C898.0,94.4 897.9,94.3 900.1,94.6 M693.1,170.5C693.4,168.7 691.3,167.2 694.1,164.5C696.8,161.7 697.0,162.8 702.1,161.4C707.2,160.1 708.4,160.5 711.1,160.0 M900.1,95.2C902.5,96.0 902.1,96.8 908.1,97.8C914.2,98.8 912.9,98.5 920.2,98.6C927.4,98.7 926.2,97.1 932.2,98.2C938.2,99.3 934.2,100.9 940.3,102.2C946.3,103.5 945.7,102.3 952.3,102.6C958.9,102.9 957.2,102.0 962.3,103.2C967.5,104.4 966.7,106.0 969.4,106.6C972.1,107.2 971.7,106.4 971.4,105.2C971.1,104.0 968.1,103.8 968.4,102.6C968.7,101.4 967.6,101.2 972.4,101.2C977.2,101.2 977.2,101.4 984.4,102.6C991.7,103.8 988.0,102.9 996.5,105.2C1004.9,107.5 1002.9,107.7 1012.5,110.2C1022.2,112.8 1020.5,111.7 1028.6,113.9C1036.7,116.0 1036.0,115.3 1039.7,117.3C1043.3,119.2 1042.2,119.1 1040.7,120.3C1039.2,121.5 1039.5,121.6 1034.6,121.3C1029.8,121.0 1029.7,120.2 1024.6,119.3C1019.5,118.4 1020.3,117.9 1017.6,118.3C1014.9,118.7 1014.7,118.9 1015.6,120.7C1016.5,122.5 1016.7,122.3 1020.6,124.3C1024.5,126.3 1026.5,125.6 1028.6,127.3C1030.7,129.0 1028.8,129.1 1027.6,129.9C1026.4,130.7 1025.5,129.9 1024.6,129.9 M1036.9,407.3C1039.4,409.3 1040.6,411.4 1045.1,414.1C1049.6,416.8 1047.8,416.4 1051.9,416.4C1056.0,416.4 1054.2,416.1 1058.7,414.1C1063.2,412.0 1064.2,410.0 1066.9,409.5C1069.6,409.1 1069.6,410.0 1067.8,412.7C1066.0,415.5 1065.1,416.2 1061.0,418.6C1056.9,421.1 1057.6,418.2 1054.2,420.9C1050.8,423.6 1048.3,423.0 1049.6,427.7C1051.0,432.5 1057.4,433.7 1058.7,436.8C1060.1,440.0 1058.3,439.5 1054.2,438.2C1050.1,436.8 1050.3,437.5 1045.1,432.3C1039.9,427.1 1039.4,424.3 1036.9,420.9 M1036.9,470.9C1038.7,472.3 1039.7,470.7 1042.8,475.5C1046.0,480.2 1044.0,479.3 1047.4,486.8C1050.8,494.3 1052.1,493.0 1054.2,500.5C1056.2,508.0 1056.2,505.0 1054.2,511.8C1052.1,518.6 1052.5,516.6 1047.4,523.2C1042.2,529.7 1040.0,530.5 1036.9,533.6 M234.3,484.0C234.9,487.6 235.7,487.0 236.3,496.0C236.9,505.1 235.7,504.5 236.3,514.1C236.9,523.8 238.1,517.3 238.4,528.2C238.7,539.0 236.1,539.4 237.3,550.3C238.6,561.1 239.1,555.9 242.4,564.3C245.7,572.8 245.1,569.9 248.4,578.4C251.7,586.8 251.0,584.4 253.4,592.4C255.8,600.4 255.5,601.3 256.4,605.1 M246.4,484.0C245.5,487.6 244.0,487.0 243.4,496.0C242.8,505.1 245.0,505.7 244.4,514.1C243.8,522.6 241.4,516.9 241.4,524.2C241.4,531.4 242.9,529.2 244.4,538.2C245.9,547.3 244.6,544.6 246.4,554.3C248.2,563.9 247.4,560.1 250.4,570.3C253.4,580.6 253.7,578.0 256.4,588.4C259.1,598.8 258.5,600.1 259.4,605.1 M316.7,514.1C315.5,515.9 315.1,515.9 312.7,520.1C310.2,524.4 311.0,523.4 308.6,528.2C306.2,533.0 307.6,532.6 304.6,536.2C301.6,539.8 302.8,539.3 298.6,540.2C294.4,541.1 291.8,537.4 290.6,539.2C289.4,541.0 294.0,541.7 294.6,546.2C295.2,550.8 296.8,551.3 292.6,554.3C288.4,557.3 284.7,553.3 280.5,556.3C276.3,559.3 281.2,561.3 278.5,564.3C275.8,567.3 273.3,564.5 271.5,566.3C269.7,568.1 270.4,568.5 272.5,570.3C274.6,572.2 277.9,569.9 278.5,572.4C279.1,574.8 276.0,574.2 274.5,578.4C273.0,582.6 272.3,581.6 273.5,586.4C274.7,591.2 278.2,589.6 278.5,594.4C278.8,599.3 276.3,599.3 274.5,602.5C272.7,605.7 273.1,604.3 272.5,605.1 M288.6,520.1C290.4,520.7 290.4,520.3 294.6,522.2C298.8,524.0 299.3,523.2 302.6,526.2C305.9,529.2 305.0,529.2 305.6,532.2C306.2,535.2 304.9,535.0 304.6,536.2 M288.6,520.1C287.7,523.2 285.8,525.1 285.5,530.2C285.2,535.3 286.0,534.5 287.6,537.2C289.1,539.9 289.7,538.6 290.6,539.2 M264.5,484.0C266.3,486.4 265.7,487.8 270.5,492.0C275.3,496.2 276.9,493.8 280.5,498.1C284.1,502.3 279.5,503.1 282.5,506.1C285.5,509.1 286.9,508.7 290.6,508.1C294.2,507.5 293.4,508.3 294.6,504.1C295.8,499.9 295.8,498.9 294.6,494.0C293.4,489.2 294.2,491.0 290.6,488.0C286.9,485.0 284.9,485.2 282.5,484.0 M344.8,484.0C342.4,485.8 343.4,487.0 336.7,490.0C330.1,493.0 328.7,491.0 322.7,494.0C316.7,497.1 318.5,494.0 316.7,500.1C314.9,506.1 316.7,509.9 316.7,514.1 M246.4,484.0C248.8,484.6 249.0,486.0 254.4,486.0C259.8,486.0 261.4,484.6 264.5,484.0 M294.6,504.1C295.8,504.7 300.4,501.3 298.6,506.1C296.8,510.9 291.6,515.9 288.6,520.1 M91.0,150.8C89.9,153.0 89.2,153.0 87.4,158.0C85.7,162.9 86.1,161.8 85.1,167.4C84.0,173.1 83.2,172.3 83.9,176.9C84.6,181.6 85.3,180.4 87.4,182.9C89.6,185.4 91.4,182.8 91.0,185.2C90.7,187.7 90.2,186.5 86.3,191.2C82.3,195.8 82.6,195.0 78.0,200.7C73.3,206.4 74.8,203.7 70.8,210.2C66.9,216.6 66.3,213.5 64.9,222.0C63.5,230.6 64.3,230.8 66.1,238.6C67.9,246.5 68.0,243.8 70.8,248.1C73.7,252.4 73.8,248.4 75.6,252.9C77.4,257.3 76.4,260.0 76.8,263.1 M91.0,182.9C104.2,182.9 106.8,182.9 134.9,182.9C163.0,182.9 167.6,181.8 184.7,182.9C201.8,183.9 189.7,185.4 191.8,186.4 M191.8,186.4C194.7,186.1 195.6,184.5 201.3,185.2C207.0,186.0 206.5,187.0 210.8,188.8C215.1,190.6 217.0,189.0 215.6,191.2C214.1,193.3 211.1,192.4 206.1,195.9C201.1,199.5 201.8,198.1 199.0,203.0C196.1,208.0 195.2,211.1 196.6,212.5C198.0,214.0 200.1,211.3 203.7,207.8C207.3,204.2 205.2,203.5 208.4,200.7C211.6,197.8 213.0,196.2 214.4,198.3C215.8,200.4 214.3,203.2 213.2,207.8C212.1,212.4 208.7,212.3 210.8,213.7C213.0,215.1 214.6,215.0 220.3,212.5C226.0,210.0 224.1,209.0 229.8,205.4C235.5,201.9 233.6,202.8 239.3,200.7C245.0,198.5 241.7,199.7 248.8,198.3C255.9,196.9 254.5,198.1 263.0,195.9C271.6,193.8 268.7,194.0 277.2,191.2C285.8,188.3 284.7,188.2 291.5,186.4C298.3,184.7 297.5,185.6 300.0,185.2 M272.5,203.0C276.8,201.6 278.5,200.4 286.7,198.3C295.0,196.2 296.0,196.6 300.0,195.9 M300.0,198.3C293.2,200.4 288.4,201.1 277.2,205.4C266.1,209.7 271.6,209.7 263.0,212.5C254.5,215.4 256.6,211.3 248.8,214.9C240.9,218.5 242.6,220.1 236.9,224.4C231.2,228.7 232.6,224.9 229.8,229.1C227.0,233.4 231.0,232.9 227.4,238.6C223.9,244.3 224.3,243.1 217.9,248.1C211.5,253.1 211.1,250.7 206.1,255.2C201.1,259.7 202.8,260.7 201.3,263.1 M75.6,252.9C79.1,253.6 79.6,253.8 87.4,255.2C95.3,256.7 94.6,257.6 101.7,257.6C108.8,257.6 106.9,253.6 111.2,255.2C115.4,256.9 114.5,260.7 115.9,263.1 M481.7,150.8C482.7,146.6 484.7,144.4 487.6,143.7C490.4,143.0 490.8,144.9 491.2,148.5C491.5,152.0 487.4,152.0 488.8,155.6C490.2,159.1 492.3,156.8 495.9,160.3C499.5,163.9 498.5,163.5 500.6,167.4C502.8,171.4 504.4,170.5 503.0,173.4C501.6,176.2 500.9,175.5 495.9,176.9C490.9,178.4 490.7,178.1 486.4,178.1C482.1,178.1 482.0,179.1 481.7,176.9C481.3,174.8 484.9,174.6 485.2,171.0C485.6,167.4 483.2,169.0 482.8,165.1C482.5,161.2 484.4,162.2 484.0,158.0C483.7,153.7 480.6,155.1 481.7,150.8Z M465.1,165.1C465.8,160.8 466.2,161.3 469.8,159.1C473.4,157.0 473.4,157.6 476.9,158.0C480.5,158.3 480.6,157.5 481.7,160.3C482.7,163.2 482.6,163.9 480.5,167.4C478.3,171.0 478.5,170.4 474.5,172.2C470.6,174.0 470.3,175.5 467.4,173.4C464.6,171.2 464.3,169.3 465.1,165.1Z M484.0,184.1C486.2,182.6 485.5,181.8 491.2,179.3C496.8,176.8 497.3,177.2 503.0,175.8C508.7,174.3 505.1,176.0 510.1,174.6C515.1,173.1 516.8,172.1 519.6,171.0 M484.0,184.1C485.5,185.5 485.9,185.2 488.8,188.8C491.6,192.4 492.8,190.9 493.5,195.9C494.2,200.9 494.0,202.2 491.2,205.4C488.3,208.6 489.0,206.6 484.0,206.6C479.1,206.6 479.5,205.1 474.5,205.4C469.6,205.8 470.6,204.9 467.4,207.8C464.2,210.6 465.3,209.2 463.9,214.9C462.4,220.6 461.6,221.1 462.7,226.8C463.7,232.5 463.9,231.0 467.4,233.9C471.0,236.7 468.8,236.3 474.5,236.3C480.2,236.3 480.7,236.7 486.4,233.9C492.1,231.0 489.3,231.7 493.5,226.8C497.8,221.8 496.4,222.3 500.6,217.3C504.9,212.3 502.1,213.4 507.8,210.2C513.5,207.0 516.1,207.7 519.6,206.6 M491.2,205.4C494.0,206.8 495.7,208.7 500.6,210.2C505.6,211.6 505.6,210.2 507.8,210.2 M474.5,207.8C473.8,211.3 473.6,212.5 472.2,219.6C470.7,226.8 471.2,227.2 469.8,231.5C468.4,235.8 468.1,233.2 467.4,233.9 M474.5,236.3C473.1,238.4 473.4,238.4 469.8,243.4C466.2,248.4 465.9,247.0 462.7,252.9C459.5,258.8 460.2,260.0 459.1,263.1 M474.5,238.6C478.8,238.3 480.2,237.4 488.8,237.4C497.3,237.4 493.8,239.0 503.0,238.6C512.3,238.3 514.6,237.0 519.6,236.3 M488.8,238.6C488.1,242.2 488.5,243.2 486.4,250.5C484.3,257.8 483.1,259.3 481.7,263.1 M280.0,127.1C282.8,127.8 283.1,129.5 289.5,129.5C295.9,129.5 296.4,125.7 301.4,127.1C306.3,128.5 304.0,129.3 306.1,134.2C308.2,139.2 306.3,138.7 308.5,143.7C310.6,148.7 311.1,145.1 313.2,150.8C315.3,156.5 315.6,155.6 315.6,162.7C315.6,169.8 316.8,169.6 313.2,174.6C309.7,179.5 310.8,177.2 303.7,179.3C296.6,181.4 296.6,181.7 289.5,181.7C282.4,181.7 282.8,180.0 280.0,179.3 M73.2,255.0C74.6,257.8 74.4,258.8 78.0,264.5C81.5,270.2 80.1,269.0 85.1,274.0C90.1,279.0 89.6,275.4 94.6,281.1C99.5,286.8 98.8,285.8 101.7,293.0C104.5,300.1 101.2,298.4 104.1,304.8C106.9,311.2 105.5,309.3 111.2,314.3C116.9,319.3 115.9,318.6 123.0,321.4C130.2,324.3 128.5,323.1 134.9,323.8C141.3,324.5 139.4,322.4 144.4,323.8C149.4,325.2 147.2,325.7 151.5,328.5C155.8,331.4 153.6,330.4 158.6,333.3C163.6,336.1 163.8,334.5 168.1,338.0C172.4,341.6 168.6,340.9 172.9,345.2C177.1,349.4 176.7,348.7 182.3,352.3C188.0,355.8 186.1,355.9 191.8,357.0C197.5,358.1 197.1,357.3 201.3,355.8C205.6,354.4 204.7,353.3 206.1,352.3 M81.5,258.6C83.3,256.4 84.1,255.8 86.3,259.7C88.4,263.7 87.2,263.8 88.6,271.6C90.1,279.4 91.0,279.8 91.0,285.8C91.0,291.9 90.4,293.9 88.6,291.8C86.9,289.6 87.6,286.2 85.1,278.7C82.6,271.3 81.4,272.9 80.3,266.9C79.3,260.8 79.7,260.7 81.5,258.6Z M111.2,255.0C114.0,257.8 115.0,260.9 120.7,264.5C126.4,268.0 125.9,263.3 130.2,266.9C134.4,270.4 132.8,271.4 134.9,276.4C137.0,281.3 137.3,278.5 137.3,283.5C137.3,288.5 134.9,286.6 134.9,293.0C134.9,299.4 134.4,299.1 137.3,304.8C140.1,310.5 139.4,309.4 144.4,311.9C149.4,314.4 149.6,314.5 153.9,313.1C158.1,311.7 156.5,310.8 158.6,307.2C160.8,303.6 157.4,303.8 161.0,301.3C164.6,298.8 167.3,297.1 170.5,298.9C173.7,300.7 172.4,302.6 171.7,307.2C171.0,311.8 170.6,310.0 168.1,314.3C165.6,318.6 163.4,318.6 163.4,321.4C163.4,324.3 163.1,322.7 168.1,323.8C173.1,324.9 175.0,323.6 180.0,325.0C185.0,326.4 184.0,325.3 184.7,328.5C185.4,331.7 183.8,331.4 182.3,335.7C180.9,339.9 180.0,338.5 180.0,342.8C180.0,347.1 178.1,347.1 182.3,349.9C186.6,352.7 187.1,351.6 194.2,352.3C201.3,353.0 199.7,354.4 206.1,352.3C212.5,350.1 209.9,349.1 215.6,345.2C221.3,341.2 221.5,339.9 225.1,339.2C228.6,338.5 227.4,339.6 227.4,342.8C227.4,346.0 224.3,348.5 225.1,349.9C225.8,351.3 227.0,349.7 229.8,347.5C232.6,345.4 229.6,343.5 234.5,342.8C239.5,342.1 239.3,344.1 246.4,345.2C253.5,346.2 252.6,345.6 258.3,346.3C264.0,347.1 262.5,345.0 265.4,347.5C268.2,350.0 264.2,351.1 267.8,354.6C271.3,358.2 270.8,355.8 277.2,359.4C283.7,362.9 282.3,363.7 289.1,366.5C295.9,369.4 296.7,368.2 300.0,368.9 M137.3,283.5C138.0,280.3 135.4,277.8 139.6,272.8C143.9,267.8 143.0,270.1 151.5,266.9C160.0,263.7 158.9,263.5 168.1,262.1C177.4,260.7 175.2,261.4 182.3,262.1C189.5,262.8 186.9,265.2 191.8,264.5C196.8,263.8 195.4,262.6 199.0,259.7C202.5,256.9 202.3,256.4 203.7,255.0 M201.3,255.0C201.7,258.6 201.8,260.5 202.5,266.9C203.2,273.3 204.8,272.1 203.7,276.4C202.6,280.6 201.8,281.8 199.0,281.1C196.1,280.4 196.3,279.0 194.2,274.0C192.1,269.0 192.6,267.3 191.8,264.5 M183.5,296.5C183.5,294.7 185.8,293.0 191.8,293.0C197.9,293.0 197.3,293.7 203.7,296.5C210.1,299.4 208.6,299.2 213.2,302.4C217.8,305.7 219.8,306.1 219.1,307.2C218.4,308.3 216.2,307.8 210.8,306.0C205.5,304.2 207.0,303.4 201.3,301.3C195.6,299.1 197.2,300.3 191.8,298.9C186.5,297.5 183.5,298.3 183.5,296.5Z M220.3,311.9C222.4,309.8 222.4,307.9 227.4,307.2C232.4,306.5 233.4,307.8 236.9,309.6C240.5,311.3 241.4,311.3 239.3,313.1C237.2,314.9 235.5,315.1 229.8,315.5C224.1,315.9 223.2,315.4 220.3,314.3C217.5,313.2 218.2,314.1 220.3,311.9Z M245.2,311.9C246.4,310.9 248.5,310.8 250.0,311.5C251.4,312.2 251.2,313.3 250.0,314.3C248.8,315.3 247.4,315.5 245.9,314.8C244.5,314.1 244.0,312.9 245.2,311.9Z M206.1,352.3C204.7,354.4 202.0,354.4 201.3,359.4C200.6,364.4 203.7,363.2 203.7,368.9C203.7,374.6 203.5,372.7 201.3,378.4C199.2,384.1 196.6,382.0 196.6,387.9C196.6,393.8 199.9,395.0 201.3,398.1 M220.3,349.9C221.0,352.7 219.8,355.1 222.7,359.4C225.5,363.7 225.5,362.0 229.8,364.1C234.1,366.3 234.1,362.2 236.9,366.5C239.8,370.8 236.4,372.7 239.3,378.4C242.1,384.1 242.1,386.9 246.4,385.5C250.7,384.1 248.5,378.6 253.5,373.6C258.5,368.6 259.5,373.1 263.0,368.9C266.6,364.6 264.0,363.7 265.4,359.4C266.8,355.1 267.0,356.1 267.8,354.6 M265.4,359.4C268.2,361.5 271.3,360.8 274.9,366.5C278.4,372.2 273.7,373.4 277.2,378.4C280.8,383.4 282.5,384.5 286.7,383.1C291.0,381.7 290.8,378.6 291.5,373.6C292.2,368.6 289.8,368.6 289.1,366.5 M239.3,378.4C238.6,380.1 239.8,381.5 236.9,384.3C234.1,387.1 231.9,383.7 229.8,387.9C227.7,392.0 229.8,395.0 229.8,398.1 M153.9,313.1C154.6,316.3 153.4,321.3 156.3,323.8C159.1,326.3 161.2,322.1 163.4,321.4 M156.3,323.8 L151.5,328.5 M484.0,255.0C481.2,257.1 480.9,257.8 474.5,262.1C468.1,266.4 469.8,266.4 462.7,269.2C455.6,272.1 455.8,270.2 450.8,271.6C445.8,273.0 448.2,271.1 446.1,274.0C443.9,276.8 446.5,276.1 443.7,281.1C440.9,286.1 440.1,285.2 436.6,290.6C433.0,295.9 432.6,293.2 431.8,298.9C431.1,304.6 432.8,304.2 434.2,309.6C435.6,314.9 433.7,312.4 436.6,316.7C439.4,321.0 442.3,318.1 443.7,323.8C445.1,329.5 442.8,330.0 441.3,335.7C439.9,341.4 438.2,338.5 439.0,342.8C439.7,347.1 440.1,344.9 443.7,349.9C447.3,354.9 445.8,354.4 450.8,359.4C455.8,364.4 455.3,362.9 460.3,366.5C465.3,370.1 462.4,370.5 467.4,371.3C472.4,372.0 470.5,368.9 476.9,368.9C483.3,368.9 481.7,370.5 488.8,371.3C495.9,372.0 497.1,371.3 500.6,371.3 M462.7,269.2C464.1,272.1 463.2,273.7 467.4,278.7C471.7,283.7 470.5,281.6 476.9,285.8C483.3,290.1 481.7,288.0 488.8,293.0C495.9,297.9 494.2,297.1 500.6,302.4C507.0,307.8 504.4,310.8 510.1,310.8C515.8,310.8 513.9,307.1 519.6,302.4C525.3,297.8 523.0,298.9 529.1,295.3C535.2,291.8 536.7,292.0 540.0,290.6 M472.2,285.8C472.2,290.8 471.8,291.1 472.2,302.4C472.5,313.8 479.8,317.0 473.4,323.8C467.0,330.6 457.6,324.6 450.8,325.0 M431.8,298.9C437.5,298.9 445.1,304.9 450.8,298.9C456.5,292.8 450.8,284.8 450.8,278.7 M510.1,310.8C509.4,314.7 509.9,316.3 507.8,323.8C505.6,331.3 504.1,327.8 503.0,335.7C501.9,343.5 503.5,342.1 504.2,349.9C504.9,357.7 502.2,356.1 505.4,361.8C508.6,367.5 508.5,366.0 514.9,368.9C521.3,371.7 519.2,371.3 526.7,371.3C534.3,371.3 536.0,369.6 540.0,368.9 M443.7,335.7C447.3,336.4 449.9,335.2 455.6,338.0C461.3,340.9 457.0,343.7 462.7,345.2C468.4,346.6 468.8,346.3 474.5,342.8C480.2,339.2 476.0,337.6 481.7,333.3C487.4,329.0 487.1,327.8 493.5,328.5C499.9,329.3 500.2,333.5 503.0,335.7 M462.7,345.2C462.7,348.7 461.3,349.2 462.7,357.0C464.1,364.8 466.0,367.0 467.4,371.3 M481.7,349.9C482.4,353.5 481.9,355.4 484.0,361.8C486.2,368.2 487.4,368.4 488.8,371.3"/>
</svg>
<div id="lpanel"></div>
<div id="rpanel"></div>
<div id="chart"></div>
<div class="grid" style="top:290.6px"></div>
<div class="grid" style="top:322.4px"></div>
<div class="grid" style="top:354.3px"></div>
<div class="grid" style="top:386.1px"></div>
<div class="grid" style="top:418px"></div>
<div class="grid" style="top:449.8px"></div>
<div class="grid" style="top:481.7px"></div>
<div class="bar" style="left:147.2px;top:406.2px;width:96.6px;height:76px;background:#35a2a4;"></div>
<div class="bar" style="left:342.6px;top:315.8px;width:95.6px;height:166.4px;background:#0580b2;"></div>
<div id="shadow"></div>
<div id="cagr"></div>
<svg id="logo" viewBox="870 40 190 40" style="position:absolute;left:870px;top:40px;width:190px;height:40px;font-family:'Liberation Sans',sans-serif;">
<defs><clipPath id="lc"><circle cx="888" cy="61" r="10.2"/></clipPath></defs>
<circle cx="888" cy="61" r="11.4" fill="#fff" stroke="#586b7f" stroke-width="3.2"/>
<path d="M875.3,73.2 L876.6,66.5 L882,71.6 Z" fill="#586b7f"/>
<g clip-path="url(#lc)">
<rect x="880.5" y="60.8" width="3.4" height="12" fill="#1fb3d9"/>
<rect x="885.8" y="56.9" width="3.6" height="16" fill="#1fb3d9"/>
<rect x="891.3" y="49" width="3.2" height="24" fill="#586b7f"/>
</g>
<text x="905.2" y="62.5" font-size="17.8" fill="#2bb4d7" textLength="71.2" lengthAdjust="spacingAndGlyphs">Credence</text>
<text x="982.4" y="62.5" font-size="17.8" fill="#5f7488" textLength="67.5" lengthAdjust="spacingAndGlyphs">Research</text>
<text x="905.6" y="71.5" font-size="5.3" font-weight="bold" fill="#515d6b" textLength="143.4" lengthAdjust="spacing">Actionable Insights Delivered</text>
</svg>
<h1 class="w">
<span class="t ttl" style="left:37.0px;top:26.4px;font-weight:bold;font-style:italic;font-size:36.1px;transform:scaleX(1.0165);color:#3e3e3e">Architecture</span>
<span class="t ttl" style="left:264.0px;top:26.4px;font-weight:bold;font-style:italic;font-size:36.1px;transform:scaleX(0.9958);color:#3e3e3e">Design</span>
<span class="t ttl" style="left:394.0px;top:26.4px;font-weight:bold;font-style:italic;font-size:36.1px;transform:scaleX(0.9867);color:#3e3e3e">Software</span>
<span class="t ttl" style="left:556.4px;top:26.4px;font-weight:bold;font-style:italic;font-size:36.1px;transform:scaleX(1.0560);color:#3e3e3e">Market</span>
<span class="t ttl" style="left:691.0px;top:26.4px;font-weight:bold;font-style:italic;font-size:36.1px;color:#3e3e3e">2024</span>
<span class="t ttl" style="left:780.4px;top:26.4px;font-weight:bold;font-style:italic;font-size:36.1px;transform:scaleX(1.0484);color:#3e3e3e">to</span>
<span class="t ttl" style="left:37.3px;top:69.8px;font-weight:bold;font-style:italic;font-size:36.1px;transform:scaleX(0.9925);color:#404040">2032</span>
</h1>
<div class="w" id="chart-title">
<span class="t ct" style="left:151.2px;top:158.7px;font-size:16px;letter-spacing:0.05px;transform:scaleX(1.1500);color:#303030">Global</span>
<span class="t ct" style="left:208.1px;top:158.7px;font-size:16px;transform:scaleX(1.1021);color:#303030">Market</span>
<span class="t ct" style="left:266.1px;top:158.7px;font-size:16px;letter-spacing:-0.22px;transform:scaleX(0.9400);color:#303030">Size,</span>
<span class="t ct" style="left:303.9px;top:158.7px;font-size:16px;transform:scaleX(1.0147);color:#303030">2024</span>
<span class="t ct" style="left:342.8px;top:158.7px;font-size:16px;letter-spacing:0.63px;transform:scaleX(1.1500);color:#303030">and</span>
<span class="t ct" style="left:379.0px;top:158.7px;font-size:16px;transform:scaleX(1.0206);color:#303030">2032</span>
<span class="t ct" style="left:229.1px;top:182.7px;font-weight:bold;font-size:16.8px;transform:scaleX(1.0026);color:#000">(USD</span>
<span class="t ct" style="left:274.7px;top:182.7px;font-weight:bold;font-size:16.8px;transform:scaleX(1.0912);color:#000">Million)</span>
</div>
<div class="w" id="chart-labels">
<span class="t dl" style="left:368.2px;top:294.4px;font-size:15.6px;transform:scaleX(1.0216);color:#262626">8,129</span>
<span class="t dl" style="left:175.0px;top:383.6px;font-size:15.6px;transform:scaleX(0.9947);color:#262626">4,945</span>
<span class="t ax" style="left:375.3px;top:491.6px;font-size:14.7px;transform:scaleX(0.9484);color:#4d4d4d">2032</span>
<span class="t ax" style="left:180.4px;top:491.6px;font-size:14.7px;transform:scaleX(0.9452);color:#4d4d4d">2024</span>
</div>
<div class="w" id="cagr-text">
<span class="t cg" style="left:601.5px;top:328.0px;font-weight:bold;font-size:29.2px;letter-spacing:-0.27px;transform:scaleX(0.9400);color:#fff">CAGR</span>
<span class="t cg" style="left:602.8px;top:361.2px;font-weight:bold;font-size:29.2px;letter-spacing:-0.17px;transform:scaleX(0.9400);color:#fff">6.41%</span>
</div>
<div class="w" id="segments">
<span class="t sg" style="left:793.9px;top:200.8px;font-weight:bold;font-size:20px;transform:scaleX(1.0396);color:#000">Market Segments</span>
<span class="t sg" style="left:794.4px;top:225.4px;font-weight:bold;font-size:20px;transform:scaleX(1.0411);color:#000">Based on Deployment</span>
<span class="t sg" style="left:793.8px;top:250.0px;font-weight:bold;font-size:20px;transform:scaleX(1.0803);color:#000">Model:</span>
<span class="t" style="left:793.9px;top:275.0px;font-size:20px;color:#111">&bull;</span>
<span class="t sg" style="left:820.4px;top:274.6px;font-size:20px;transform:scaleX(1.0805);color:#1c1c1c">On-premises</span>
<span class="t" style="left:793.9px;top:299.6px;font-size:20px;color:#111">&bull;</span>
<span class="t sg" style="left:820.4px;top:299.2px;font-size:20px;transform:scaleX(1.1500);color:#1c1c1c">Cloud-based</span>
<span class="t sg" style="left:794.2px;top:323.8px;font-weight:bold;font-size:20px;transform:scaleX(1.0174);color:#000">Based on Pricing</span>
<span class="t sg" style="left:793.8px;top:348.4px;font-weight:bold;font-size:20px;transform:scaleX(1.0803);color:#000">Model:</span>
<span class="t" style="left:793.9px;top:373.4px;font-size:20px;color:#111">&bull;</span>
<span class="t sg" style="left:820.1px;top:373.0px;font-size:20px;transform:scaleX(1.1435);color:#1c1c1c">One-time purchase</span>
<span class="t" style="left:793.9px;top:398.0px;font-size:20px;color:#111">&bull;</span>
<span class="t sg" style="left:819.5px;top:397.6px;font-size:20px;transform:scaleX(1.1202);color:#1c1c1c">Subscription model</span>
<span class="t sg" style="left:794.0px;top:422.2px;font-weight:bold;font-size:20px;transform:scaleX(0.9866);color:#000">Based on End User:</span>
<span class="t" style="left:793.9px;top:447.2px;font-size:20px;color:#111">&bull;</span>
<span class="t sg" style="left:820.6px;top:446.8px;font-size:20px;transform:scaleX(1.1356);color:#1c1c1c">Architects</span>
<span class="t" style="left:793.9px;top:471.8px;font-size:20px;color:#111">&bull;</span>
<span class="t sg" style="left:819.9px;top:471.4px;font-size:20px;transform:scaleX(1.0460);color:#1c1c1c">Engineers</span>
</div>
</body>
</html>
